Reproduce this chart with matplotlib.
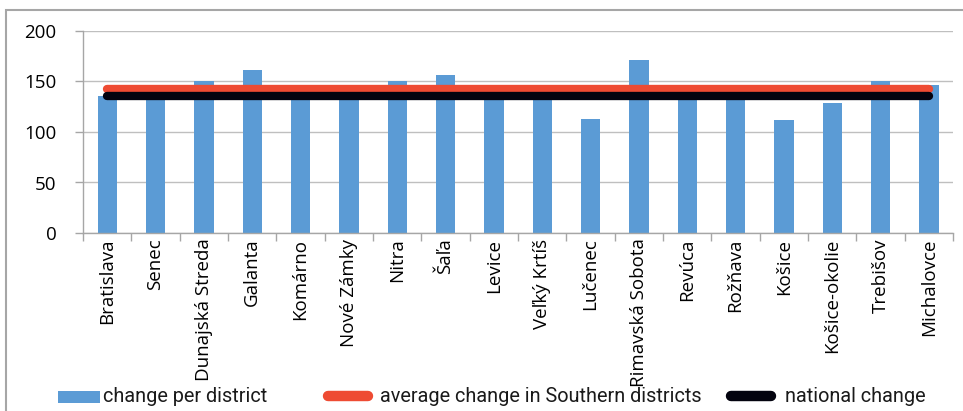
import matplotlib
matplotlib.use("Agg")
import matplotlib.pyplot as plt
from matplotlib.patches import Rectangle
from matplotlib.lines import Line2D
import numpy as np

districts = ["Bratislava", "Senec", "Dunajská Streda", "Galanta", "Komárno",
             "Nové Zámky", "Nitra", "Šaľa", "Levice", "Veľký Krtíš", "Lučenec",
             "Rimavská Sobota", "Revúca", "Rožňava", "Košice", "Košice-okolie",
             "Trebišov", "Michalovce"]
change_per_district = [136, 140, 150, 161, 140, 140, 150, 156, 140, 140, 113,
                       171, 140, 140, 112, 129, 150, 147]
southern_average = 142.5
national_change = 135.5

yticks = [0, 50, 100, 150, 200]
legend_labels = ["change per district", "average change in Southern districts", "national change"]

W, H = 963, 411
fig = plt.figure(figsize=(W / 100, H / 100), dpi=100)
fig.patch.set_facecolor("white")

def fx(px):
    return px / W

def fy(py):
    return 1 - py / H

# outer chart frame (cropped)
fig.patches.append(Rectangle((fx(6), -0.05), 1.2, fy(10) + 0.05,
                             transform=fig.transFigure, fill=False,
                             edgecolor="#a6a6a6", linewidth=1.5))

ax = fig.add_axes([fx(83), fy(233), (953 - 83) / W, (233 - 31) / H])

x = np.arange(len(districts))
bar_color = "#5b9bd5"
red = "#ee4b33"
black = "#03030f"
ax.bar(x, change_per_district, width=0.4, color=bar_color, zorder=2)

ax.plot([x[0], x[-1]], [southern_average] * 2, color=red, linewidth=6,
        solid_capstyle="round", zorder=3)
ax.plot([x[0], x[-1]], [national_change] * 2, color=black, linewidth=6,
        solid_capstyle="round", zorder=4)

ax.set_xlim(-0.5, len(districts) - 0.5)
ax.set_ylim(0, 200)
ax.set_yticks(yticks)
ax.yaxis.grid(True, color="#bfbfbf", linewidth=1, zorder=0)
ax.set_axisbelow(True)

ax.set_xticks(x)
ax.set_xticklabels(districts, rotation=90, fontsize=13.5, family=["Open Sans", "DejaVu Sans"])
ax.tick_params(axis="x", length=0, pad=4)
ax.set_xticks(np.arange(-0.5, len(districts), 1), minor=True)
ax.tick_params(axis="x", which="minor", length=6, color="#a6a6a6", width=1)
ax.tick_params(axis="y", length=6, color="#a6a6a6", width=1, labelsize=13.5, pad=13)
for lbl in ax.get_yticklabels():
    lbl.set_family(["Open Sans", "DejaVu Sans"])

for s in ["top", "right"]:
    ax.spines[s].set_visible(False)
for s in ["left", "bottom"]:
    ax.spines[s].set_color("#a6a6a6")
    ax.spines[s].set_linewidth(1)

# legend drawn manually at the bottom
ly = 396
fig.patches.append(Rectangle((fx(58), fy(403)), fx(42), 12 / H, transform=fig.transFigure,
                             facecolor=bar_color, edgecolor="none"))
fig.add_artist(Line2D([fx(328), fx(368)], [fy(ly), fy(ly)], transform=fig.transFigure,
                      color=red, linewidth=7.5, solid_capstyle="round"))
fig.add_artist(Line2D([fx(731), fx(771)], [fy(ly), fy(ly)], transform=fig.transFigure,
                      color=black, linewidth=7.5, solid_capstyle="round"))
lfont = dict(family=["Roboto", "DejaVu Sans"], fontsize=14.3, color="#1a1a1a", va="center", ha="left")
for px, txt in zip([103, 380, 785], legend_labels):
    fig.text(fx(px), fy(ly), txt, **lfont)

fig.savefig("out.png", dpi=100)
